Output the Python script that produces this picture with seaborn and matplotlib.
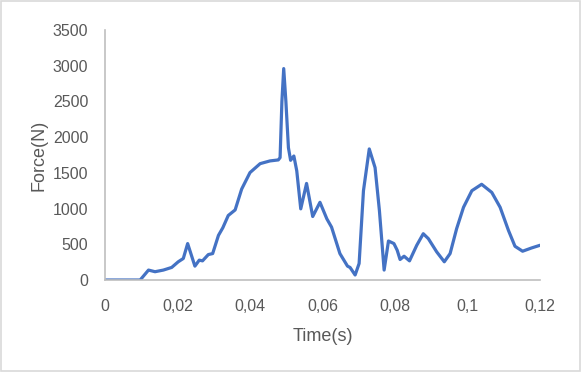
import matplotlib
matplotlib.use("Agg")
import matplotlib.pyplot as plt
import seaborn as sns
import pandas as pd
from matplotlib.ticker import FuncFormatter, MultipleLocator
from matplotlib.patches import Rectangle

time_s = [0.0, 0.0097, 0.0120, 0.0138, 0.0161, 0.0184, 0.0202, 0.0216, 0.0228, 0.0248,
          0.0260, 0.0269, 0.0285, 0.0297, 0.0313, 0.0325, 0.0340, 0.0359, 0.0377, 0.0400,
          0.0428, 0.0455, 0.0478, 0.0483, 0.0488, 0.0493, 0.0499, 0.0506, 0.0512, 0.0521,
          0.0529, 0.0540, 0.0556, 0.0573, 0.0593, 0.0612, 0.0625, 0.0648, 0.0669, 0.0676,
          0.0690, 0.0701, 0.0713, 0.0729, 0.0745, 0.0757, 0.0770, 0.0782, 0.0797, 0.0806,
          0.0814, 0.0825, 0.0840, 0.0860, 0.0878, 0.0892, 0.0915, 0.0936, 0.0952, 0.0970,
          0.0989, 0.1012, 0.1039, 0.1067, 0.1090, 0.1113, 0.1131, 0.1152, 0.1177, 0.1200]
force_n = [0, 0, 139, 116, 139, 176, 255, 301, 510, 194,
           278, 268, 356, 370, 625, 731, 903, 981, 1273, 1504,
           1629, 1667, 1681, 1713, 2500, 2960, 2500, 1852, 1676, 1736,
           1528, 996, 1352, 889, 1088, 856, 740, 370, 194, 176,
           70, 231, 1250, 1835, 1574, 972, 139, 546, 510, 417,
           287, 333, 268, 486, 648, 579, 394, 255, 370, 718,
           1018, 1250, 1340, 1226, 1018, 694, 472, 403, 449, 486]

df = pd.DataFrame({"Time(s)": time_s, "Force(N)": force_n})

sns.set_theme(style="white")
plt.rcParams["font.family"] = ["Liberation Sans", "DejaVu Sans"]

fig = plt.figure(figsize=(5.81, 3.72), dpi=100)
ax = fig.add_axes([105 / 581, 1 - 280 / 372, (540 - 105) / 581, (280 - 30) / 372])

sns.lineplot(data=df, x="Time(s)", y="Force(N)", ax=ax, color="#4472C4", linewidth=2.3)
ax.lines[0].set_solid_joinstyle("round")
ax.lines[0].set_solid_capstyle("round")

ax.set_xlim(0, 0.12)
ax.set_ylim(0, 3500)
ax.xaxis.set_major_locator(MultipleLocator(0.02))
ax.yaxis.set_major_locator(MultipleLocator(500))

def fmt_x(v, pos):
    s = f"{v:.2f}".rstrip("0").rstrip(".")
    return s.replace(".", ",")

ax.xaxis.set_major_formatter(FuncFormatter(fmt_x))
ax.yaxis.set_major_formatter(FuncFormatter(lambda v, p: f"{int(round(v))}"))

grey = "#595959"
ax.tick_params(axis="both", colors=grey, labelsize=11.5, length=0)
ax.tick_params(axis="x", pad=14)
ax.tick_params(axis="y", pad=12)
for s in ["top", "right"]:
    ax.spines[s].set_visible(False)
for s in ["left", "bottom"]:
    ax.spines[s].set_color("#BFBFBF")
    ax.spines[s].set_linewidth(1.2)

ax.set_xlabel("Time(s)", color=grey, fontsize=13, labelpad=10)
ax.set_ylabel("Force(N)", color=grey, fontsize=13, labelpad=4)

fig.patches.append(Rectangle((0.002, 0.003), 0.996, 0.994, transform=fig.transFigure,
                             fill=False, edgecolor="#D9D9D9", linewidth=1.2))

fig.savefig("out.png", dpi=100)
